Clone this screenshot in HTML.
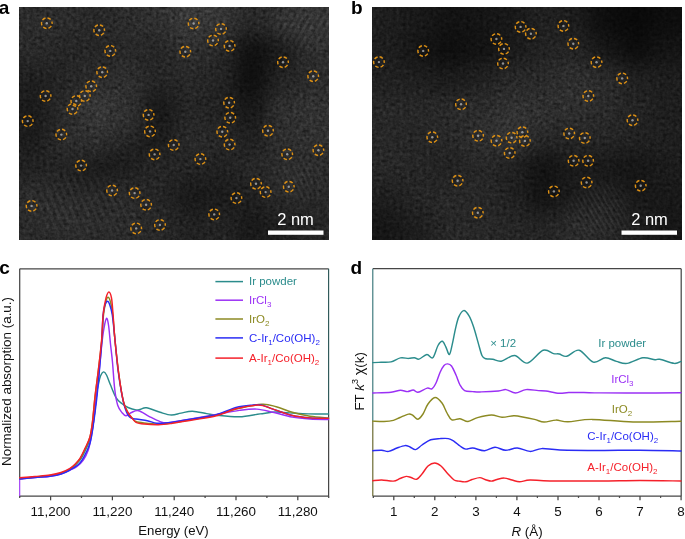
<!DOCTYPE html><html><head><meta charset="utf-8"><style>html,body{margin:0;padding:0;background:#fff;}body{width:685px;height:539px;overflow:hidden;}svg{display:block;font-family:"Liberation Sans",sans-serif;will-change:transform;}</style></head><body>
<svg width="685" height="539" viewBox="0 0 685 539">
<defs>
<filter id="bl" x="-50%" y="-50%" width="200%" height="200%" color-interpolation-filters="sRGB"><feGaussianBlur stdDeviation="10"/></filter>
<filter id="bl2" x="-50%" y="-50%" width="200%" height="200%"><feGaussianBlur stdDeviation="7"/></filter>
<filter id="noise" x="0" y="0" width="100%" height="100%" color-interpolation-filters="sRGB"><feTurbulence type="fractalNoise" baseFrequency="0.3" numOctaves="2" seed="3"/><feColorMatrix type="matrix" values="0.8 0.8 0.8 0 -0.7  0.8 0.8 0.8 0 -0.7  0.8 0.8 0.8 0 -0.7  0 0 0 0 1"/></filter>
<clipPath id="ca"><rect x="19" y="7" width="310" height="233"/></clipPath>
<clipPath id="cb"><rect x="372" y="7" width="310" height="233"/></clipPath>
<radialGradient id="rg"><stop offset="0" stop-color="#fff"/><stop offset="0.6" stop-color="#fff" stop-opacity="0.6"/><stop offset="1" stop-color="#fff" stop-opacity="0"/></radialGradient>
<pattern id="fp0" patternUnits="userSpaceOnUse" width="7.00" height="7.00" patternTransform="rotate(-22.0)"><rect width="3.15" height="7.00" fill="#fff"/></pattern>
<mask id="fm0" maskUnits="userSpaceOnUse" x="0" y="0" width="685" height="539"><ellipse cx="80.0" cy="205.0" rx="75.0" ry="40.0" fill="url(#rg)"/></mask>
<pattern id="fp1" patternUnits="userSpaceOnUse" width="6.00" height="6.00" patternTransform="rotate(30.0)"><rect width="2.70" height="6.00" fill="#fff"/></pattern>
<mask id="fm1" maskUnits="userSpaceOnUse" x="0" y="0" width="685" height="539"><ellipse cx="305.0" cy="28.0" rx="38.0" ry="30.0" fill="url(#rg)"/></mask>
<pattern id="fp2" patternUnits="userSpaceOnUse" width="5.00" height="5.00" patternTransform="rotate(-25.0)"><rect width="2.25" height="5.00" fill="#fff"/></pattern>
<mask id="fm2" maskUnits="userSpaceOnUse" x="0" y="0" width="685" height="539"><ellipse cx="300.0" cy="178.0" rx="38.0" ry="26.0" fill="url(#rg)"/></mask>
<pattern id="fp3" patternUnits="userSpaceOnUse" width="4.50" height="4.50" patternTransform="rotate(-30.0)"><rect width="2.02" height="4.50" fill="#fff"/></pattern>
<mask id="fm3" maskUnits="userSpaceOnUse" x="0" y="0" width="685" height="539"><ellipse cx="600.0" cy="212.0" rx="42.0" ry="36.0" fill="url(#rg)"/></mask>
<pattern id="fp4" patternUnits="userSpaceOnUse" width="5.00" height="5.00" patternTransform="rotate(35.0)"><rect width="2.25" height="5.00" fill="#fff"/></pattern>
<mask id="fm4" maskUnits="userSpaceOnUse" x="0" y="0" width="685" height="539"><ellipse cx="520.0" cy="130.0" rx="45.0" ry="35.0" fill="url(#rg)"/></mask>
</defs>
<g clip-path="url(#ca)">
<rect x="19" y="7" width="310" height="233" fill="#3a3a3a"/>
<g filter="url(#bl)">
<rect x="-43.0" y="-51.2" width="31.5" height="29.6" fill="rgb(43,43,43)"/><rect x="-12.0" y="-51.2" width="31.5" height="29.6" fill="rgb(43,43,43)"/><rect x="19.0" y="-51.2" width="31.5" height="29.6" fill="rgb(43,43,43)"/><rect x="50.0" y="-51.2" width="31.5" height="29.6" fill="rgb(43,43,43)"/><rect x="81.0" y="-51.2" width="31.5" height="29.6" fill="rgb(39,39,39)"/><rect x="112.0" y="-51.2" width="31.5" height="29.6" fill="rgb(43,43,43)"/><rect x="143.0" y="-51.2" width="31.5" height="29.6" fill="rgb(47,47,47)"/><rect x="174.0" y="-51.2" width="31.5" height="29.6" fill="rgb(57,57,57)"/><rect x="205.0" y="-51.2" width="31.5" height="29.6" fill="rgb(52,52,52)"/><rect x="236.0" y="-51.2" width="31.5" height="29.6" fill="rgb(39,39,39)"/><rect x="267.0" y="-51.2" width="31.5" height="29.6" fill="rgb(47,47,47)"/><rect x="298.0" y="-51.2" width="31.5" height="29.6" fill="rgb(49,49,49)"/><rect x="329.0" y="-51.2" width="31.5" height="29.6" fill="rgb(49,49,49)"/><rect x="360.0" y="-51.2" width="31.5" height="29.6" fill="rgb(49,49,49)"/><rect x="-43.0" y="-22.1" width="31.5" height="29.6" fill="rgb(43,43,43)"/><rect x="-12.0" y="-22.1" width="31.5" height="29.6" fill="rgb(43,43,43)"/><rect x="19.0" y="-22.1" width="31.5" height="29.6" fill="rgb(43,43,43)"/><rect x="50.0" y="-22.1" width="31.5" height="29.6" fill="rgb(43,43,43)"/><rect x="81.0" y="-22.1" width="31.5" height="29.6" fill="rgb(39,39,39)"/><rect x="112.0" y="-22.1" width="31.5" height="29.6" fill="rgb(43,43,43)"/><rect x="143.0" y="-22.1" width="31.5" height="29.6" fill="rgb(47,47,47)"/><rect x="174.0" y="-22.1" width="31.5" height="29.6" fill="rgb(57,57,57)"/><rect x="205.0" y="-22.1" width="31.5" height="29.6" fill="rgb(52,52,52)"/><rect x="236.0" y="-22.1" width="31.5" height="29.6" fill="rgb(39,39,39)"/><rect x="267.0" y="-22.1" width="31.5" height="29.6" fill="rgb(47,47,47)"/><rect x="298.0" y="-22.1" width="31.5" height="29.6" fill="rgb(49,49,49)"/><rect x="329.0" y="-22.1" width="31.5" height="29.6" fill="rgb(49,49,49)"/><rect x="360.0" y="-22.1" width="31.5" height="29.6" fill="rgb(49,49,49)"/><rect x="-43.0" y="7.0" width="31.5" height="29.6" fill="rgb(43,43,43)"/><rect x="-12.0" y="7.0" width="31.5" height="29.6" fill="rgb(43,43,43)"/><rect x="19.0" y="7.0" width="31.5" height="29.6" fill="rgb(43,43,43)"/><rect x="50.0" y="7.0" width="31.5" height="29.6" fill="rgb(43,43,43)"/><rect x="81.0" y="7.0" width="31.5" height="29.6" fill="rgb(39,39,39)"/><rect x="112.0" y="7.0" width="31.5" height="29.6" fill="rgb(43,43,43)"/><rect x="143.0" y="7.0" width="31.5" height="29.6" fill="rgb(47,47,47)"/><rect x="174.0" y="7.0" width="31.5" height="29.6" fill="rgb(57,57,57)"/><rect x="205.0" y="7.0" width="31.5" height="29.6" fill="rgb(52,52,52)"/><rect x="236.0" y="7.0" width="31.5" height="29.6" fill="rgb(39,39,39)"/><rect x="267.0" y="7.0" width="31.5" height="29.6" fill="rgb(47,47,47)"/><rect x="298.0" y="7.0" width="31.5" height="29.6" fill="rgb(49,49,49)"/><rect x="329.0" y="7.0" width="31.5" height="29.6" fill="rgb(49,49,49)"/><rect x="360.0" y="7.0" width="31.5" height="29.6" fill="rgb(49,49,49)"/><rect x="-43.0" y="36.1" width="31.5" height="29.6" fill="rgb(41,41,41)"/><rect x="-12.0" y="36.1" width="31.5" height="29.6" fill="rgb(41,41,41)"/><rect x="19.0" y="36.1" width="31.5" height="29.6" fill="rgb(41,41,41)"/><rect x="50.0" y="36.1" width="31.5" height="29.6" fill="rgb(37,37,37)"/><rect x="81.0" y="36.1" width="31.5" height="29.6" fill="rgb(37,37,37)"/><rect x="112.0" y="36.1" width="31.5" height="29.6" fill="rgb(39,39,39)"/><rect x="143.0" y="36.1" width="31.5" height="29.6" fill="rgb(37,37,37)"/><rect x="174.0" y="36.1" width="31.5" height="29.6" fill="rgb(46,46,46)"/><rect x="205.0" y="36.1" width="31.5" height="29.6" fill="rgb(39,39,39)"/><rect x="236.0" y="36.1" width="31.5" height="29.6" fill="rgb(15,15,15)"/><rect x="267.0" y="36.1" width="31.5" height="29.6" fill="rgb(26,26,26)"/><rect x="298.0" y="36.1" width="31.5" height="29.6" fill="rgb(45,45,45)"/><rect x="329.0" y="36.1" width="31.5" height="29.6" fill="rgb(45,45,45)"/><rect x="360.0" y="36.1" width="31.5" height="29.6" fill="rgb(45,45,45)"/><rect x="-43.0" y="65.2" width="31.5" height="29.6" fill="rgb(30,30,30)"/><rect x="-12.0" y="65.2" width="31.5" height="29.6" fill="rgb(30,30,30)"/><rect x="19.0" y="65.2" width="31.5" height="29.6" fill="rgb(30,30,30)"/><rect x="50.0" y="65.2" width="31.5" height="29.6" fill="rgb(37,37,37)"/><rect x="81.0" y="65.2" width="31.5" height="29.6" fill="rgb(43,43,43)"/><rect x="112.0" y="65.2" width="31.5" height="29.6" fill="rgb(46,46,46)"/><rect x="143.0" y="65.2" width="31.5" height="29.6" fill="rgb(36,36,36)"/><rect x="174.0" y="65.2" width="31.5" height="29.6" fill="rgb(39,39,39)"/><rect x="205.0" y="65.2" width="31.5" height="29.6" fill="rgb(35,35,35)"/><rect x="236.0" y="65.2" width="31.5" height="29.6" fill="rgb(13,13,13)"/><rect x="267.0" y="65.2" width="31.5" height="29.6" fill="rgb(35,35,35)"/><rect x="298.0" y="65.2" width="31.5" height="29.6" fill="rgb(43,43,43)"/><rect x="329.0" y="65.2" width="31.5" height="29.6" fill="rgb(43,43,43)"/><rect x="360.0" y="65.2" width="31.5" height="29.6" fill="rgb(43,43,43)"/><rect x="-43.0" y="94.4" width="31.5" height="29.6" fill="rgb(26,26,26)"/><rect x="-12.0" y="94.4" width="31.5" height="29.6" fill="rgb(26,26,26)"/><rect x="19.0" y="94.4" width="31.5" height="29.6" fill="rgb(26,26,26)"/><rect x="50.0" y="94.4" width="31.5" height="29.6" fill="rgb(41,41,41)"/><rect x="81.0" y="94.4" width="31.5" height="29.6" fill="rgb(56,56,56)"/><rect x="112.0" y="94.4" width="31.5" height="29.6" fill="rgb(48,48,48)"/><rect x="143.0" y="94.4" width="31.5" height="29.6" fill="rgb(22,22,22)"/><rect x="174.0" y="94.4" width="31.5" height="29.6" fill="rgb(37,37,37)"/><rect x="205.0" y="94.4" width="31.5" height="29.6" fill="rgb(32,32,32)"/><rect x="236.0" y="94.4" width="31.5" height="29.6" fill="rgb(22,22,22)"/><rect x="267.0" y="94.4" width="31.5" height="29.6" fill="rgb(47,47,47)"/><rect x="298.0" y="94.4" width="31.5" height="29.6" fill="rgb(49,49,49)"/><rect x="329.0" y="94.4" width="31.5" height="29.6" fill="rgb(49,49,49)"/><rect x="360.0" y="94.4" width="31.5" height="29.6" fill="rgb(49,49,49)"/><rect x="-43.0" y="123.5" width="31.5" height="29.6" fill="rgb(27,27,27)"/><rect x="-12.0" y="123.5" width="31.5" height="29.6" fill="rgb(27,27,27)"/><rect x="19.0" y="123.5" width="31.5" height="29.6" fill="rgb(27,27,27)"/><rect x="50.0" y="123.5" width="31.5" height="29.6" fill="rgb(43,43,43)"/><rect x="81.0" y="123.5" width="31.5" height="29.6" fill="rgb(47,47,47)"/><rect x="112.0" y="123.5" width="31.5" height="29.6" fill="rgb(43,43,43)"/><rect x="143.0" y="123.5" width="31.5" height="29.6" fill="rgb(28,28,28)"/><rect x="174.0" y="123.5" width="31.5" height="29.6" fill="rgb(41,41,41)"/><rect x="205.0" y="123.5" width="31.5" height="29.6" fill="rgb(39,39,39)"/><rect x="236.0" y="123.5" width="31.5" height="29.6" fill="rgb(30,30,30)"/><rect x="267.0" y="123.5" width="31.5" height="29.6" fill="rgb(46,46,46)"/><rect x="298.0" y="123.5" width="31.5" height="29.6" fill="rgb(47,47,47)"/><rect x="329.0" y="123.5" width="31.5" height="29.6" fill="rgb(47,47,47)"/><rect x="360.0" y="123.5" width="31.5" height="29.6" fill="rgb(47,47,47)"/><rect x="-43.0" y="152.6" width="31.5" height="29.6" fill="rgb(33,33,33)"/><rect x="-12.0" y="152.6" width="31.5" height="29.6" fill="rgb(33,33,33)"/><rect x="19.0" y="152.6" width="31.5" height="29.6" fill="rgb(33,33,33)"/><rect x="50.0" y="152.6" width="31.5" height="29.6" fill="rgb(36,36,36)"/><rect x="81.0" y="152.6" width="31.5" height="29.6" fill="rgb(32,32,32)"/><rect x="112.0" y="152.6" width="31.5" height="29.6" fill="rgb(32,32,32)"/><rect x="143.0" y="152.6" width="31.5" height="29.6" fill="rgb(37,37,37)"/><rect x="174.0" y="152.6" width="31.5" height="29.6" fill="rgb(35,35,35)"/><rect x="205.0" y="152.6" width="31.5" height="29.6" fill="rgb(32,32,32)"/><rect x="236.0" y="152.6" width="31.5" height="29.6" fill="rgb(39,39,39)"/><rect x="267.0" y="152.6" width="31.5" height="29.6" fill="rgb(41,41,41)"/><rect x="298.0" y="152.6" width="31.5" height="29.6" fill="rgb(41,41,41)"/><rect x="329.0" y="152.6" width="31.5" height="29.6" fill="rgb(41,41,41)"/><rect x="360.0" y="152.6" width="31.5" height="29.6" fill="rgb(41,41,41)"/><rect x="-43.0" y="181.8" width="31.5" height="29.6" fill="rgb(42,42,42)"/><rect x="-12.0" y="181.8" width="31.5" height="29.6" fill="rgb(42,42,42)"/><rect x="19.0" y="181.8" width="31.5" height="29.6" fill="rgb(42,42,42)"/><rect x="50.0" y="181.8" width="31.5" height="29.6" fill="rgb(42,42,42)"/><rect x="81.0" y="181.8" width="31.5" height="29.6" fill="rgb(37,37,37)"/><rect x="112.0" y="181.8" width="31.5" height="29.6" fill="rgb(39,39,39)"/><rect x="143.0" y="181.8" width="31.5" height="29.6" fill="rgb(37,37,37)"/><rect x="174.0" y="181.8" width="31.5" height="29.6" fill="rgb(24,24,24)"/><rect x="205.0" y="181.8" width="31.5" height="29.6" fill="rgb(26,26,26)"/><rect x="236.0" y="181.8" width="31.5" height="29.6" fill="rgb(30,30,30)"/><rect x="267.0" y="181.8" width="31.5" height="29.6" fill="rgb(41,41,41)"/><rect x="298.0" y="181.8" width="31.5" height="29.6" fill="rgb(39,39,39)"/><rect x="329.0" y="181.8" width="31.5" height="29.6" fill="rgb(39,39,39)"/><rect x="360.0" y="181.8" width="31.5" height="29.6" fill="rgb(39,39,39)"/><rect x="-43.0" y="210.9" width="31.5" height="29.6" fill="rgb(41,41,41)"/><rect x="-12.0" y="210.9" width="31.5" height="29.6" fill="rgb(41,41,41)"/><rect x="19.0" y="210.9" width="31.5" height="29.6" fill="rgb(41,41,41)"/><rect x="50.0" y="210.9" width="31.5" height="29.6" fill="rgb(42,42,42)"/><rect x="81.0" y="210.9" width="31.5" height="29.6" fill="rgb(41,41,41)"/><rect x="112.0" y="210.9" width="31.5" height="29.6" fill="rgb(41,41,41)"/><rect x="143.0" y="210.9" width="31.5" height="29.6" fill="rgb(39,39,39)"/><rect x="174.0" y="210.9" width="31.5" height="29.6" fill="rgb(32,32,32)"/><rect x="205.0" y="210.9" width="31.5" height="29.6" fill="rgb(35,35,35)"/><rect x="236.0" y="210.9" width="31.5" height="29.6" fill="rgb(24,24,24)"/><rect x="267.0" y="210.9" width="31.5" height="29.6" fill="rgb(30,30,30)"/><rect x="298.0" y="210.9" width="31.5" height="29.6" fill="rgb(37,37,37)"/><rect x="329.0" y="210.9" width="31.5" height="29.6" fill="rgb(37,37,37)"/><rect x="360.0" y="210.9" width="31.5" height="29.6" fill="rgb(37,37,37)"/><rect x="-43.0" y="240.0" width="31.5" height="29.6" fill="rgb(41,41,41)"/><rect x="-12.0" y="240.0" width="31.5" height="29.6" fill="rgb(41,41,41)"/><rect x="19.0" y="240.0" width="31.5" height="29.6" fill="rgb(41,41,41)"/><rect x="50.0" y="240.0" width="31.5" height="29.6" fill="rgb(42,42,42)"/><rect x="81.0" y="240.0" width="31.5" height="29.6" fill="rgb(41,41,41)"/><rect x="112.0" y="240.0" width="31.5" height="29.6" fill="rgb(41,41,41)"/><rect x="143.0" y="240.0" width="31.5" height="29.6" fill="rgb(39,39,39)"/><rect x="174.0" y="240.0" width="31.5" height="29.6" fill="rgb(32,32,32)"/><rect x="205.0" y="240.0" width="31.5" height="29.6" fill="rgb(35,35,35)"/><rect x="236.0" y="240.0" width="31.5" height="29.6" fill="rgb(24,24,24)"/><rect x="267.0" y="240.0" width="31.5" height="29.6" fill="rgb(30,30,30)"/><rect x="298.0" y="240.0" width="31.5" height="29.6" fill="rgb(37,37,37)"/><rect x="329.0" y="240.0" width="31.5" height="29.6" fill="rgb(37,37,37)"/><rect x="360.0" y="240.0" width="31.5" height="29.6" fill="rgb(37,37,37)"/><rect x="-43.0" y="269.1" width="31.5" height="29.6" fill="rgb(41,41,41)"/><rect x="-12.0" y="269.1" width="31.5" height="29.6" fill="rgb(41,41,41)"/><rect x="19.0" y="269.1" width="31.5" height="29.6" fill="rgb(41,41,41)"/><rect x="50.0" y="269.1" width="31.5" height="29.6" fill="rgb(42,42,42)"/><rect x="81.0" y="269.1" width="31.5" height="29.6" fill="rgb(41,41,41)"/><rect x="112.0" y="269.1" width="31.5" height="29.6" fill="rgb(41,41,41)"/><rect x="143.0" y="269.1" width="31.5" height="29.6" fill="rgb(39,39,39)"/><rect x="174.0" y="269.1" width="31.5" height="29.6" fill="rgb(32,32,32)"/><rect x="205.0" y="269.1" width="31.5" height="29.6" fill="rgb(35,35,35)"/><rect x="236.0" y="269.1" width="31.5" height="29.6" fill="rgb(24,24,24)"/><rect x="267.0" y="269.1" width="31.5" height="29.6" fill="rgb(30,30,30)"/><rect x="298.0" y="269.1" width="31.5" height="29.6" fill="rgb(37,37,37)"/><rect x="329.0" y="269.1" width="31.5" height="29.6" fill="rgb(37,37,37)"/><rect x="360.0" y="269.1" width="31.5" height="29.6" fill="rgb(37,37,37)"/>
<ellipse cx="112.0" cy="162.0" rx="70.0" ry="12.0" fill="#141414" opacity="0.45" transform="rotate(-29.0 112.0 162.0)"/>
</g>
<rect x="19" y="7" width="310" height="233" filter="url(#noise)" opacity="0.40" style="mix-blend-mode:overlay"/>
<rect x="19" y="7" width="310" height="233" fill="url(#fp0)" mask="url(#fm0)" opacity="0.050"/>
<rect x="19" y="7" width="310" height="233" fill="url(#fp1)" mask="url(#fm1)" opacity="0.070"/>
<rect x="19" y="7" width="310" height="233" fill="url(#fp2)" mask="url(#fm2)" opacity="0.060"/>
<circle cx="46.8" cy="23.2" r="1.2" fill="#d0d0d0" opacity="0.65"/><circle cx="99.2" cy="30.2" r="1.2" fill="#d0d0d0" opacity="0.65"/><circle cx="110.3" cy="50.9" r="1.2" fill="#d0d0d0" opacity="0.65"/><circle cx="193.6" cy="23.5" r="1.2" fill="#d0d0d0" opacity="0.65"/><circle cx="221.0" cy="29.0" r="1.2" fill="#d0d0d0" opacity="0.65"/><circle cx="213.0" cy="40.5" r="1.2" fill="#d0d0d0" opacity="0.65"/><circle cx="229.6" cy="45.9" r="1.2" fill="#d0d0d0" opacity="0.65"/><circle cx="185.3" cy="51.7" r="1.2" fill="#d0d0d0" opacity="0.65"/><circle cx="283.0" cy="62.2" r="1.2" fill="#d0d0d0" opacity="0.65"/><circle cx="313.2" cy="76.2" r="1.2" fill="#d0d0d0" opacity="0.65"/><circle cx="102.2" cy="72.2" r="1.2" fill="#d0d0d0" opacity="0.65"/><circle cx="91.2" cy="86.3" r="1.2" fill="#d0d0d0" opacity="0.65"/><circle cx="84.8" cy="96.0" r="1.2" fill="#d0d0d0" opacity="0.65"/><circle cx="76.3" cy="101.0" r="1.2" fill="#d0d0d0" opacity="0.65"/><circle cx="72.5" cy="109.0" r="1.2" fill="#d0d0d0" opacity="0.65"/><circle cx="45.6" cy="96.0" r="1.2" fill="#d0d0d0" opacity="0.65"/><circle cx="27.7" cy="121.1" r="1.2" fill="#d0d0d0" opacity="0.65"/><circle cx="61.3" cy="134.6" r="1.2" fill="#d0d0d0" opacity="0.65"/><circle cx="148.6" cy="114.9" r="1.2" fill="#d0d0d0" opacity="0.65"/><circle cx="229.1" cy="102.7" r="1.2" fill="#d0d0d0" opacity="0.65"/><circle cx="230.2" cy="117.8" r="1.2" fill="#d0d0d0" opacity="0.65"/><circle cx="150.0" cy="131.4" r="1.2" fill="#d0d0d0" opacity="0.65"/><circle cx="222.3" cy="131.7" r="1.2" fill="#d0d0d0" opacity="0.65"/><circle cx="268.0" cy="130.7" r="1.2" fill="#d0d0d0" opacity="0.65"/><circle cx="229.6" cy="144.6" r="1.2" fill="#d0d0d0" opacity="0.65"/><circle cx="173.7" cy="145.0" r="1.2" fill="#d0d0d0" opacity="0.65"/><circle cx="154.6" cy="154.4" r="1.2" fill="#d0d0d0" opacity="0.65"/><circle cx="287.2" cy="154.3" r="1.2" fill="#d0d0d0" opacity="0.65"/><circle cx="318.4" cy="150.2" r="1.2" fill="#d0d0d0" opacity="0.65"/><circle cx="81.1" cy="165.6" r="1.2" fill="#d0d0d0" opacity="0.65"/><circle cx="200.4" cy="159.1" r="1.2" fill="#d0d0d0" opacity="0.65"/><circle cx="256.0" cy="183.7" r="1.2" fill="#d0d0d0" opacity="0.65"/><circle cx="265.6" cy="192.1" r="1.2" fill="#d0d0d0" opacity="0.65"/><circle cx="288.8" cy="186.7" r="1.2" fill="#d0d0d0" opacity="0.65"/><circle cx="112.1" cy="190.5" r="1.2" fill="#d0d0d0" opacity="0.65"/><circle cx="134.6" cy="193.1" r="1.2" fill="#d0d0d0" opacity="0.65"/><circle cx="146.1" cy="204.8" r="1.2" fill="#d0d0d0" opacity="0.65"/><circle cx="236.4" cy="198.1" r="1.2" fill="#d0d0d0" opacity="0.65"/><circle cx="31.6" cy="205.9" r="1.2" fill="#d0d0d0" opacity="0.65"/><circle cx="214.2" cy="214.4" r="1.2" fill="#d0d0d0" opacity="0.65"/><circle cx="136.2" cy="228.4" r="1.2" fill="#d0d0d0" opacity="0.65"/><circle cx="160.0" cy="225.0" r="1.2" fill="#d0d0d0" opacity="0.65"/>
<g fill="none" stroke="#dc9015" stroke-width="1.45" stroke-dasharray="3.5 2.05" stroke-dashoffset="2.7"><circle cx="46.8" cy="23.2" r="5.3"/><circle cx="99.2" cy="30.2" r="5.3"/><circle cx="110.3" cy="50.9" r="5.3"/><circle cx="193.6" cy="23.5" r="5.3"/><circle cx="221.0" cy="29.0" r="5.3"/><circle cx="213.0" cy="40.5" r="5.3"/><circle cx="229.6" cy="45.9" r="5.3"/><circle cx="185.3" cy="51.7" r="5.3"/><circle cx="283.0" cy="62.2" r="5.3"/><circle cx="313.2" cy="76.2" r="5.3"/><circle cx="102.2" cy="72.2" r="5.3"/><circle cx="91.2" cy="86.3" r="5.3"/><circle cx="84.8" cy="96.0" r="5.3"/><circle cx="76.3" cy="101.0" r="5.3"/><circle cx="72.5" cy="109.0" r="5.3"/><circle cx="45.6" cy="96.0" r="5.3"/><circle cx="27.7" cy="121.1" r="5.3"/><circle cx="61.3" cy="134.6" r="5.3"/><circle cx="148.6" cy="114.9" r="5.3"/><circle cx="229.1" cy="102.7" r="5.3"/><circle cx="230.2" cy="117.8" r="5.3"/><circle cx="150.0" cy="131.4" r="5.3"/><circle cx="222.3" cy="131.7" r="5.3"/><circle cx="268.0" cy="130.7" r="5.3"/><circle cx="229.6" cy="144.6" r="5.3"/><circle cx="173.7" cy="145.0" r="5.3"/><circle cx="154.6" cy="154.4" r="5.3"/><circle cx="287.2" cy="154.3" r="5.3"/><circle cx="318.4" cy="150.2" r="5.3"/><circle cx="81.1" cy="165.6" r="5.3"/><circle cx="200.4" cy="159.1" r="5.3"/><circle cx="256.0" cy="183.7" r="5.3"/><circle cx="265.6" cy="192.1" r="5.3"/><circle cx="288.8" cy="186.7" r="5.3"/><circle cx="112.1" cy="190.5" r="5.3"/><circle cx="134.6" cy="193.1" r="5.3"/><circle cx="146.1" cy="204.8" r="5.3"/><circle cx="236.4" cy="198.1" r="5.3"/><circle cx="31.6" cy="205.9" r="5.3"/><circle cx="214.2" cy="214.4" r="5.3"/><circle cx="136.2" cy="228.4" r="5.3"/><circle cx="160.0" cy="225.0" r="5.3"/></g>
<rect x="268" y="230.5" width="55.5" height="4.3" fill="#fff"/>
<text x="295.5" y="224.8" font-size="16.5" fill="#fff" text-anchor="middle">2 nm</text>
</g>
<g clip-path="url(#cb)">
<rect x="372" y="7" width="310" height="233" fill="#343434"/>
<g filter="url(#bl)">
<rect x="310.0" y="-51.2" width="31.5" height="29.6" fill="rgb(29,29,29)"/><rect x="341.0" y="-51.2" width="31.5" height="29.6" fill="rgb(29,29,29)"/><rect x="372.0" y="-51.2" width="31.5" height="29.6" fill="rgb(29,29,29)"/><rect x="403.0" y="-51.2" width="31.5" height="29.6" fill="rgb(24,24,24)"/><rect x="434.0" y="-51.2" width="31.5" height="29.6" fill="rgb(18,18,18)"/><rect x="465.0" y="-51.2" width="31.5" height="29.6" fill="rgb(20,20,20)"/><rect x="496.0" y="-51.2" width="31.5" height="29.6" fill="rgb(24,24,24)"/><rect x="527.0" y="-51.2" width="31.5" height="29.6" fill="rgb(32,32,32)"/><rect x="558.0" y="-51.2" width="31.5" height="29.6" fill="rgb(28,28,28)"/><rect x="589.0" y="-51.2" width="31.5" height="29.6" fill="rgb(13,13,13)"/><rect x="620.0" y="-51.2" width="31.5" height="29.6" fill="rgb(9,9,9)"/><rect x="651.0" y="-51.2" width="31.5" height="29.6" fill="rgb(13,13,13)"/><rect x="682.0" y="-51.2" width="31.5" height="29.6" fill="rgb(13,13,13)"/><rect x="713.0" y="-51.2" width="31.5" height="29.6" fill="rgb(13,13,13)"/><rect x="310.0" y="-22.1" width="31.5" height="29.6" fill="rgb(29,29,29)"/><rect x="341.0" y="-22.1" width="31.5" height="29.6" fill="rgb(29,29,29)"/><rect x="372.0" y="-22.1" width="31.5" height="29.6" fill="rgb(29,29,29)"/><rect x="403.0" y="-22.1" width="31.5" height="29.6" fill="rgb(24,24,24)"/><rect x="434.0" y="-22.1" width="31.5" height="29.6" fill="rgb(18,18,18)"/><rect x="465.0" y="-22.1" width="31.5" height="29.6" fill="rgb(20,20,20)"/><rect x="496.0" y="-22.1" width="31.5" height="29.6" fill="rgb(24,24,24)"/><rect x="527.0" y="-22.1" width="31.5" height="29.6" fill="rgb(32,32,32)"/><rect x="558.0" y="-22.1" width="31.5" height="29.6" fill="rgb(28,28,28)"/><rect x="589.0" y="-22.1" width="31.5" height="29.6" fill="rgb(13,13,13)"/><rect x="620.0" y="-22.1" width="31.5" height="29.6" fill="rgb(9,9,9)"/><rect x="651.0" y="-22.1" width="31.5" height="29.6" fill="rgb(13,13,13)"/><rect x="682.0" y="-22.1" width="31.5" height="29.6" fill="rgb(13,13,13)"/><rect x="713.0" y="-22.1" width="31.5" height="29.6" fill="rgb(13,13,13)"/><rect x="310.0" y="7.0" width="31.5" height="29.6" fill="rgb(29,29,29)"/><rect x="341.0" y="7.0" width="31.5" height="29.6" fill="rgb(29,29,29)"/><rect x="372.0" y="7.0" width="31.5" height="29.6" fill="rgb(29,29,29)"/><rect x="403.0" y="7.0" width="31.5" height="29.6" fill="rgb(24,24,24)"/><rect x="434.0" y="7.0" width="31.5" height="29.6" fill="rgb(18,18,18)"/><rect x="465.0" y="7.0" width="31.5" height="29.6" fill="rgb(20,20,20)"/><rect x="496.0" y="7.0" width="31.5" height="29.6" fill="rgb(24,24,24)"/><rect x="527.0" y="7.0" width="31.5" height="29.6" fill="rgb(32,32,32)"/><rect x="558.0" y="7.0" width="31.5" height="29.6" fill="rgb(28,28,28)"/><rect x="589.0" y="7.0" width="31.5" height="29.6" fill="rgb(13,13,13)"/><rect x="620.0" y="7.0" width="31.5" height="29.6" fill="rgb(9,9,9)"/><rect x="651.0" y="7.0" width="31.5" height="29.6" fill="rgb(13,13,13)"/><rect x="682.0" y="7.0" width="31.5" height="29.6" fill="rgb(13,13,13)"/><rect x="713.0" y="7.0" width="31.5" height="29.6" fill="rgb(13,13,13)"/><rect x="310.0" y="36.1" width="31.5" height="29.6" fill="rgb(29,29,29)"/><rect x="341.0" y="36.1" width="31.5" height="29.6" fill="rgb(29,29,29)"/><rect x="372.0" y="36.1" width="31.5" height="29.6" fill="rgb(29,29,29)"/><rect x="403.0" y="36.1" width="31.5" height="29.6" fill="rgb(20,20,20)"/><rect x="434.0" y="36.1" width="31.5" height="29.6" fill="rgb(13,13,13)"/><rect x="465.0" y="36.1" width="31.5" height="29.6" fill="rgb(18,18,18)"/><rect x="496.0" y="36.1" width="31.5" height="29.6" fill="rgb(24,24,24)"/><rect x="527.0" y="36.1" width="31.5" height="29.6" fill="rgb(34,34,34)"/><rect x="558.0" y="36.1" width="31.5" height="29.6" fill="rgb(36,36,36)"/><rect x="589.0" y="36.1" width="31.5" height="29.6" fill="rgb(22,22,22)"/><rect x="620.0" y="36.1" width="31.5" height="29.6" fill="rgb(12,12,12)"/><rect x="651.0" y="36.1" width="31.5" height="29.6" fill="rgb(20,20,20)"/><rect x="682.0" y="36.1" width="31.5" height="29.6" fill="rgb(20,20,20)"/><rect x="713.0" y="36.1" width="31.5" height="29.6" fill="rgb(20,20,20)"/><rect x="310.0" y="65.2" width="31.5" height="29.6" fill="rgb(32,32,32)"/><rect x="341.0" y="65.2" width="31.5" height="29.6" fill="rgb(32,32,32)"/><rect x="372.0" y="65.2" width="31.5" height="29.6" fill="rgb(32,32,32)"/><rect x="403.0" y="65.2" width="31.5" height="29.6" fill="rgb(30,30,30)"/><rect x="434.0" y="65.2" width="31.5" height="29.6" fill="rgb(26,26,26)"/><rect x="465.0" y="65.2" width="31.5" height="29.6" fill="rgb(32,32,32)"/><rect x="496.0" y="65.2" width="31.5" height="29.6" fill="rgb(40,40,40)"/><rect x="527.0" y="65.2" width="31.5" height="29.6" fill="rgb(41,41,41)"/><rect x="558.0" y="65.2" width="31.5" height="29.6" fill="rgb(47,47,47)"/><rect x="589.0" y="65.2" width="31.5" height="29.6" fill="rgb(43,43,43)"/><rect x="620.0" y="65.2" width="31.5" height="29.6" fill="rgb(32,32,32)"/><rect x="651.0" y="65.2" width="31.5" height="29.6" fill="rgb(29,29,29)"/><rect x="682.0" y="65.2" width="31.5" height="29.6" fill="rgb(29,29,29)"/><rect x="713.0" y="65.2" width="31.5" height="29.6" fill="rgb(29,29,29)"/><rect x="310.0" y="94.4" width="31.5" height="29.6" fill="rgb(39,39,39)"/><rect x="341.0" y="94.4" width="31.5" height="29.6" fill="rgb(39,39,39)"/><rect x="372.0" y="94.4" width="31.5" height="29.6" fill="rgb(39,39,39)"/><rect x="403.0" y="94.4" width="31.5" height="29.6" fill="rgb(39,39,39)"/><rect x="434.0" y="94.4" width="31.5" height="29.6" fill="rgb(41,41,41)"/><rect x="465.0" y="94.4" width="31.5" height="29.6" fill="rgb(43,43,43)"/><rect x="496.0" y="94.4" width="31.5" height="29.6" fill="rgb(47,47,47)"/><rect x="527.0" y="94.4" width="31.5" height="29.6" fill="rgb(46,46,46)"/><rect x="558.0" y="94.4" width="31.5" height="29.6" fill="rgb(46,46,46)"/><rect x="589.0" y="94.4" width="31.5" height="29.6" fill="rgb(41,41,41)"/><rect x="620.0" y="94.4" width="31.5" height="29.6" fill="rgb(35,35,35)"/><rect x="651.0" y="94.4" width="31.5" height="29.6" fill="rgb(29,29,29)"/><rect x="682.0" y="94.4" width="31.5" height="29.6" fill="rgb(29,29,29)"/><rect x="713.0" y="94.4" width="31.5" height="29.6" fill="rgb(29,29,29)"/><rect x="310.0" y="123.5" width="31.5" height="29.6" fill="rgb(39,39,39)"/><rect x="341.0" y="123.5" width="31.5" height="29.6" fill="rgb(39,39,39)"/><rect x="372.0" y="123.5" width="31.5" height="29.6" fill="rgb(39,39,39)"/><rect x="403.0" y="123.5" width="31.5" height="29.6" fill="rgb(37,37,37)"/><rect x="434.0" y="123.5" width="31.5" height="29.6" fill="rgb(39,39,39)"/><rect x="465.0" y="123.5" width="31.5" height="29.6" fill="rgb(46,46,46)"/><rect x="496.0" y="123.5" width="31.5" height="29.6" fill="rgb(47,47,47)"/><rect x="527.0" y="123.5" width="31.5" height="29.6" fill="rgb(37,37,37)"/><rect x="558.0" y="123.5" width="31.5" height="29.6" fill="rgb(37,37,37)"/><rect x="589.0" y="123.5" width="31.5" height="29.6" fill="rgb(37,37,37)"/><rect x="620.0" y="123.5" width="31.5" height="29.6" fill="rgb(33,33,33)"/><rect x="651.0" y="123.5" width="31.5" height="29.6" fill="rgb(30,30,30)"/><rect x="682.0" y="123.5" width="31.5" height="29.6" fill="rgb(30,30,30)"/><rect x="713.0" y="123.5" width="31.5" height="29.6" fill="rgb(30,30,30)"/><rect x="310.0" y="152.6" width="31.5" height="29.6" fill="rgb(39,39,39)"/><rect x="341.0" y="152.6" width="31.5" height="29.6" fill="rgb(39,39,39)"/><rect x="372.0" y="152.6" width="31.5" height="29.6" fill="rgb(39,39,39)"/><rect x="403.0" y="152.6" width="31.5" height="29.6" fill="rgb(37,37,37)"/><rect x="434.0" y="152.6" width="31.5" height="29.6" fill="rgb(32,32,32)"/><rect x="465.0" y="152.6" width="31.5" height="29.6" fill="rgb(39,39,39)"/><rect x="496.0" y="152.6" width="31.5" height="29.6" fill="rgb(32,32,32)"/><rect x="527.0" y="152.6" width="31.5" height="29.6" fill="rgb(18,18,18)"/><rect x="558.0" y="152.6" width="31.5" height="29.6" fill="rgb(26,26,26)"/><rect x="589.0" y="152.6" width="31.5" height="29.6" fill="rgb(24,24,24)"/><rect x="620.0" y="152.6" width="31.5" height="29.6" fill="rgb(20,20,20)"/><rect x="651.0" y="152.6" width="31.5" height="29.6" fill="rgb(27,27,27)"/><rect x="682.0" y="152.6" width="31.5" height="29.6" fill="rgb(27,27,27)"/><rect x="713.0" y="152.6" width="31.5" height="29.6" fill="rgb(27,27,27)"/><rect x="310.0" y="181.8" width="31.5" height="29.6" fill="rgb(30,30,30)"/><rect x="341.0" y="181.8" width="31.5" height="29.6" fill="rgb(30,30,30)"/><rect x="372.0" y="181.8" width="31.5" height="29.6" fill="rgb(30,30,30)"/><rect x="403.0" y="181.8" width="31.5" height="29.6" fill="rgb(37,37,37)"/><rect x="434.0" y="181.8" width="31.5" height="29.6" fill="rgb(39,39,39)"/><rect x="465.0" y="181.8" width="31.5" height="29.6" fill="rgb(39,39,39)"/><rect x="496.0" y="181.8" width="31.5" height="29.6" fill="rgb(32,32,32)"/><rect x="527.0" y="181.8" width="31.5" height="29.6" fill="rgb(18,18,18)"/><rect x="558.0" y="181.8" width="31.5" height="29.6" fill="rgb(26,26,26)"/><rect x="589.0" y="181.8" width="31.5" height="29.6" fill="rgb(30,30,30)"/><rect x="620.0" y="181.8" width="31.5" height="29.6" fill="rgb(24,24,24)"/><rect x="651.0" y="181.8" width="31.5" height="29.6" fill="rgb(24,24,24)"/><rect x="682.0" y="181.8" width="31.5" height="29.6" fill="rgb(24,24,24)"/><rect x="713.0" y="181.8" width="31.5" height="29.6" fill="rgb(24,24,24)"/><rect x="310.0" y="210.9" width="31.5" height="29.6" fill="rgb(22,22,22)"/><rect x="341.0" y="210.9" width="31.5" height="29.6" fill="rgb(22,22,22)"/><rect x="372.0" y="210.9" width="31.5" height="29.6" fill="rgb(22,22,22)"/><rect x="403.0" y="210.9" width="31.5" height="29.6" fill="rgb(29,29,29)"/><rect x="434.0" y="210.9" width="31.5" height="29.6" fill="rgb(39,39,39)"/><rect x="465.0" y="210.9" width="31.5" height="29.6" fill="rgb(39,39,39)"/><rect x="496.0" y="210.9" width="31.5" height="29.6" fill="rgb(37,37,37)"/><rect x="527.0" y="210.9" width="31.5" height="29.6" fill="rgb(35,35,35)"/><rect x="558.0" y="210.9" width="31.5" height="29.6" fill="rgb(41,41,41)"/><rect x="589.0" y="210.9" width="31.5" height="29.6" fill="rgb(37,37,37)"/><rect x="620.0" y="210.9" width="31.5" height="29.6" fill="rgb(29,29,29)"/><rect x="651.0" y="210.9" width="31.5" height="29.6" fill="rgb(22,22,22)"/><rect x="682.0" y="210.9" width="31.5" height="29.6" fill="rgb(22,22,22)"/><rect x="713.0" y="210.9" width="31.5" height="29.6" fill="rgb(22,22,22)"/><rect x="310.0" y="240.0" width="31.5" height="29.6" fill="rgb(22,22,22)"/><rect x="341.0" y="240.0" width="31.5" height="29.6" fill="rgb(22,22,22)"/><rect x="372.0" y="240.0" width="31.5" height="29.6" fill="rgb(22,22,22)"/><rect x="403.0" y="240.0" width="31.5" height="29.6" fill="rgb(29,29,29)"/><rect x="434.0" y="240.0" width="31.5" height="29.6" fill="rgb(39,39,39)"/><rect x="465.0" y="240.0" width="31.5" height="29.6" fill="rgb(39,39,39)"/><rect x="496.0" y="240.0" width="31.5" height="29.6" fill="rgb(37,37,37)"/><rect x="527.0" y="240.0" width="31.5" height="29.6" fill="rgb(35,35,35)"/><rect x="558.0" y="240.0" width="31.5" height="29.6" fill="rgb(41,41,41)"/><rect x="589.0" y="240.0" width="31.5" height="29.6" fill="rgb(37,37,37)"/><rect x="620.0" y="240.0" width="31.5" height="29.6" fill="rgb(29,29,29)"/><rect x="651.0" y="240.0" width="31.5" height="29.6" fill="rgb(22,22,22)"/><rect x="682.0" y="240.0" width="31.5" height="29.6" fill="rgb(22,22,22)"/><rect x="713.0" y="240.0" width="31.5" height="29.6" fill="rgb(22,22,22)"/><rect x="310.0" y="269.1" width="31.5" height="29.6" fill="rgb(22,22,22)"/><rect x="341.0" y="269.1" width="31.5" height="29.6" fill="rgb(22,22,22)"/><rect x="372.0" y="269.1" width="31.5" height="29.6" fill="rgb(22,22,22)"/><rect x="403.0" y="269.1" width="31.5" height="29.6" fill="rgb(29,29,29)"/><rect x="434.0" y="269.1" width="31.5" height="29.6" fill="rgb(39,39,39)"/><rect x="465.0" y="269.1" width="31.5" height="29.6" fill="rgb(39,39,39)"/><rect x="496.0" y="269.1" width="31.5" height="29.6" fill="rgb(37,37,37)"/><rect x="527.0" y="269.1" width="31.5" height="29.6" fill="rgb(35,35,35)"/><rect x="558.0" y="269.1" width="31.5" height="29.6" fill="rgb(41,41,41)"/><rect x="589.0" y="269.1" width="31.5" height="29.6" fill="rgb(37,37,37)"/><rect x="620.0" y="269.1" width="31.5" height="29.6" fill="rgb(29,29,29)"/><rect x="651.0" y="269.1" width="31.5" height="29.6" fill="rgb(22,22,22)"/><rect x="682.0" y="269.1" width="31.5" height="29.6" fill="rgb(22,22,22)"/><rect x="713.0" y="269.1" width="31.5" height="29.6" fill="rgb(22,22,22)"/>
</g>
<rect x="372" y="7" width="310" height="233" filter="url(#noise)" opacity="0.40" style="mix-blend-mode:overlay"/>
<rect x="372" y="7" width="310" height="233" fill="url(#fp3)" mask="url(#fm3)" opacity="0.070"/>
<rect x="372" y="7" width="310" height="233" fill="url(#fp4)" mask="url(#fm4)" opacity="0.040"/>
<circle cx="378.9" cy="62.1" r="1.2" fill="#d0d0d0" opacity="0.65"/><circle cx="423.2" cy="50.9" r="1.2" fill="#d0d0d0" opacity="0.65"/><circle cx="496.4" cy="39.0" r="1.2" fill="#d0d0d0" opacity="0.65"/><circle cx="504.0" cy="48.9" r="1.2" fill="#d0d0d0" opacity="0.65"/><circle cx="503.0" cy="63.5" r="1.2" fill="#d0d0d0" opacity="0.65"/><circle cx="520.6" cy="26.9" r="1.2" fill="#d0d0d0" opacity="0.65"/><circle cx="530.9" cy="33.7" r="1.2" fill="#d0d0d0" opacity="0.65"/><circle cx="563.4" cy="25.9" r="1.2" fill="#d0d0d0" opacity="0.65"/><circle cx="573.3" cy="43.7" r="1.2" fill="#d0d0d0" opacity="0.65"/><circle cx="596.5" cy="62.2" r="1.2" fill="#d0d0d0" opacity="0.65"/><circle cx="622.2" cy="78.4" r="1.2" fill="#d0d0d0" opacity="0.65"/><circle cx="588.3" cy="96.0" r="1.2" fill="#d0d0d0" opacity="0.65"/><circle cx="461.0" cy="104.3" r="1.2" fill="#d0d0d0" opacity="0.65"/><circle cx="632.5" cy="120.2" r="1.2" fill="#d0d0d0" opacity="0.65"/><circle cx="432.3" cy="137.2" r="1.2" fill="#d0d0d0" opacity="0.65"/><circle cx="478.1" cy="135.8" r="1.2" fill="#d0d0d0" opacity="0.65"/><circle cx="496.5" cy="140.7" r="1.2" fill="#d0d0d0" opacity="0.65"/><circle cx="511.6" cy="137.7" r="1.2" fill="#d0d0d0" opacity="0.65"/><circle cx="522.4" cy="132.2" r="1.2" fill="#d0d0d0" opacity="0.65"/><circle cx="524.9" cy="140.9" r="1.2" fill="#d0d0d0" opacity="0.65"/><circle cx="509.7" cy="153.0" r="1.2" fill="#d0d0d0" opacity="0.65"/><circle cx="569.2" cy="133.5" r="1.2" fill="#d0d0d0" opacity="0.65"/><circle cx="584.8" cy="138.0" r="1.2" fill="#d0d0d0" opacity="0.65"/><circle cx="573.6" cy="160.8" r="1.2" fill="#d0d0d0" opacity="0.65"/><circle cx="588.1" cy="160.8" r="1.2" fill="#d0d0d0" opacity="0.65"/><circle cx="586.6" cy="182.5" r="1.2" fill="#d0d0d0" opacity="0.65"/><circle cx="457.6" cy="180.7" r="1.2" fill="#d0d0d0" opacity="0.65"/><circle cx="553.9" cy="191.4" r="1.2" fill="#d0d0d0" opacity="0.65"/><circle cx="640.7" cy="185.7" r="1.2" fill="#d0d0d0" opacity="0.65"/><circle cx="477.8" cy="212.7" r="1.2" fill="#d0d0d0" opacity="0.65"/>
<g fill="none" stroke="#dc9015" stroke-width="1.45" stroke-dasharray="3.5 2.05" stroke-dashoffset="2.7"><circle cx="378.9" cy="62.1" r="5.3"/><circle cx="423.2" cy="50.9" r="5.3"/><circle cx="496.4" cy="39.0" r="5.3"/><circle cx="504.0" cy="48.9" r="5.3"/><circle cx="503.0" cy="63.5" r="5.3"/><circle cx="520.6" cy="26.9" r="5.3"/><circle cx="530.9" cy="33.7" r="5.3"/><circle cx="563.4" cy="25.9" r="5.3"/><circle cx="573.3" cy="43.7" r="5.3"/><circle cx="596.5" cy="62.2" r="5.3"/><circle cx="622.2" cy="78.4" r="5.3"/><circle cx="588.3" cy="96.0" r="5.3"/><circle cx="461.0" cy="104.3" r="5.3"/><circle cx="632.5" cy="120.2" r="5.3"/><circle cx="432.3" cy="137.2" r="5.3"/><circle cx="478.1" cy="135.8" r="5.3"/><circle cx="496.5" cy="140.7" r="5.3"/><circle cx="511.6" cy="137.7" r="5.3"/><circle cx="522.4" cy="132.2" r="5.3"/><circle cx="524.9" cy="140.9" r="5.3"/><circle cx="509.7" cy="153.0" r="5.3"/><circle cx="569.2" cy="133.5" r="5.3"/><circle cx="584.8" cy="138.0" r="5.3"/><circle cx="573.6" cy="160.8" r="5.3"/><circle cx="588.1" cy="160.8" r="5.3"/><circle cx="586.6" cy="182.5" r="5.3"/><circle cx="457.6" cy="180.7" r="5.3"/><circle cx="553.9" cy="191.4" r="5.3"/><circle cx="640.7" cy="185.7" r="5.3"/><circle cx="477.8" cy="212.7" r="5.3"/></g>
<rect x="621.5" y="230.5" width="55.5" height="4.3" fill="#fff"/>
<text x="649.5" y="225" font-size="16.5" fill="#fff" text-anchor="middle">2 nm</text>
</g>
<g font-weight="bold" font-size="19" fill="#000">
<text x="-1.2" y="13.8">a</text>
<text x="351.0" y="13.9">b</text>
<text x="-0.8" y="274">c</text>
<text x="350.6" y="273.8">d</text>
</g>
<g fill="none" stroke="#464646" stroke-width="1.25">
<path d="M19.7 268.8 H328.6"/>
<path d="M19.7 496.1 H328.6"/>
<path d="M19.7 268.8 V479.0"/>
<path d="M328.6 414.0 V496.1"/>
<path d="M19.7 496.1 V497.9"/>
<path d="M50.6 496.1 V500.3"/>
<path d="M81.5 496.1 V497.9"/>
<path d="M112.4 496.1 V500.3"/>
<path d="M143.3 496.1 V497.9"/>
<path d="M174.2 496.1 V500.3"/>
<path d="M205.1 496.1 V497.9"/>
<path d="M236.0 496.1 V500.3"/>
<path d="M266.9 496.1 V497.9"/>
<path d="M297.8 496.1 V500.3"/>
<path d="M328.7 496.1 V497.9"/>
</g>
<path d="M19.7 479.0 V496.1" stroke="#9b30f5" stroke-width="1.1"/>
<path d="M328.6 268.8 V414.0" stroke="#2d5858" stroke-width="1.15"/>
<path d="M19.70 478.50 C24.75 478.05 43.12 476.63 50.00 475.80 C56.88 474.97 57.67 474.55 61.00 473.50 C64.33 472.45 66.83 471.75 70.00 469.50 C73.17 467.25 77.33 463.42 80.00 460.00 C82.67 456.58 84.33 452.50 86.00 449.00 C87.67 445.50 88.78 443.28 90.00 439.00 C91.22 434.72 92.15 431.13 93.30 423.30 C94.45 415.47 96.05 398.47 96.90 392.00 C97.75 385.53 97.80 387.17 98.40 384.50 C99.00 381.83 99.63 378.10 100.50 376.00 C101.37 373.90 102.60 372.07 103.60 371.90 C104.60 371.73 105.38 372.90 106.50 375.00 C107.62 377.10 108.68 380.68 110.30 384.50 C111.92 388.32 114.23 394.68 116.20 397.90 C118.17 401.12 120.13 402.20 122.10 403.80 C124.07 405.40 125.68 406.48 128.00 407.50 C130.32 408.52 133.92 409.60 136.00 409.90 C138.08 410.20 138.75 409.65 140.50 409.30 C142.25 408.95 143.23 407.30 146.50 407.80 C149.77 408.30 155.95 411.10 160.10 412.30 C164.25 413.50 167.92 414.87 171.40 415.00 C174.88 415.13 177.52 413.73 181.00 413.10 C184.48 412.47 188.02 411.12 192.30 411.20 C196.58 411.28 202.68 412.93 206.70 413.60 C210.72 414.27 210.97 414.67 216.40 415.20 C221.83 415.73 232.02 417.02 239.30 416.80 C246.58 416.58 253.95 414.70 260.10 413.90 C266.25 413.10 270.83 412.13 276.20 412.00 C281.57 411.87 286.95 412.78 292.30 413.10 C297.65 413.42 302.27 413.77 308.30 413.90 C314.33 414.03 325.13 413.90 328.50 413.90" fill="none" stroke="#2b8c8c" stroke-width="1.45" stroke-linejoin="round" stroke-linecap="round"/>
<path d="M19.70 479.00 C22.25 478.75 29.95 477.97 35.00 477.50 C40.05 477.03 45.67 476.78 50.00 476.20 C54.33 475.62 57.67 475.03 61.00 474.00 C64.33 472.97 67.38 471.22 70.00 470.00 C72.62 468.78 74.48 468.37 76.70 466.70 C78.92 465.03 81.37 462.78 83.30 460.00 C85.23 457.22 86.97 453.88 88.30 450.00 C89.63 446.12 90.47 441.15 91.30 436.70 C92.13 432.25 92.52 429.42 93.30 423.30 C94.08 417.18 95.17 407.22 96.00 400.00 C96.83 392.78 97.35 389.17 98.30 380.00 C99.25 370.83 100.75 353.67 101.70 345.00 C102.65 336.33 103.20 332.43 104.00 328.00 C104.80 323.57 105.75 318.90 106.50 318.40 C107.25 317.90 107.82 320.57 108.50 325.00 C109.18 329.43 109.93 338.78 110.60 345.00 C111.27 351.22 111.82 354.97 112.50 362.30 C113.18 369.63 113.83 381.83 114.70 389.00 C115.57 396.17 116.47 401.35 117.70 405.30 C118.93 409.25 120.75 410.97 122.10 412.70 C123.45 414.43 124.32 415.70 125.80 415.70 C127.28 415.70 128.88 413.53 131.00 412.70 C133.12 411.87 135.52 410.10 138.50 410.70 C141.48 411.30 145.30 414.48 148.90 416.30 C152.50 418.12 156.88 420.53 160.10 421.60 C163.32 422.67 162.83 423.18 168.20 422.70 C173.57 422.22 184.27 420.08 192.30 418.70 C200.33 417.32 208.57 415.78 216.40 414.40 C224.23 413.02 232.55 411.28 239.30 410.40 C246.05 409.52 251.28 408.78 256.90 409.10 C262.52 409.42 267.10 410.97 273.00 412.30 C278.90 413.63 286.13 415.98 292.30 417.10 C298.47 418.22 303.97 418.60 310.00 419.00 C316.03 419.40 325.42 419.42 328.50 419.50" fill="none" stroke="#9b30f5" stroke-width="1.45" stroke-linejoin="round" stroke-linecap="round"/>
<path d="M19.70 478.50 C24.75 478.00 43.12 476.42 50.00 475.50 C56.88 474.58 57.67 474.08 61.00 473.00 C64.33 471.92 66.83 471.33 70.00 469.00 C73.17 466.67 77.37 462.58 80.00 459.00 C82.63 455.42 84.13 451.17 85.80 447.50 C87.47 443.83 88.88 441.25 90.00 437.00 C91.12 432.75 91.67 428.67 92.50 422.00 C93.33 415.33 94.02 405.67 95.00 397.00 C95.98 388.33 97.27 379.50 98.40 370.00 C99.53 360.50 100.95 349.17 101.80 340.00 C102.65 330.83 102.83 321.33 103.50 315.00 C104.17 308.67 105.05 304.95 105.80 302.00 C106.55 299.05 107.22 297.30 108.00 297.30 C108.78 297.30 109.70 299.05 110.50 302.00 C111.30 304.95 112.05 308.67 112.80 315.00 C113.55 321.33 113.93 329.67 115.00 340.00 C116.07 350.33 117.77 366.67 119.20 377.00 C120.63 387.33 122.13 396.08 123.60 402.00 C125.07 407.92 126.52 409.75 128.00 412.50 C129.48 415.25 131.17 417.00 132.50 418.50 C133.83 420.00 134.08 420.75 136.00 421.50 C137.92 422.25 140.25 422.58 144.00 423.00 C147.75 423.42 153.93 424.00 158.50 424.00 C163.07 424.00 165.77 423.75 171.40 423.00 C177.03 422.25 184.80 420.83 192.30 419.50 C199.80 418.17 209.12 416.75 216.40 415.00 C223.68 413.25 228.43 410.78 236.00 409.00 C243.57 407.22 255.10 404.68 261.80 404.30 C268.50 403.92 271.12 405.37 276.20 406.70 C281.28 408.03 286.67 410.70 292.30 412.30 C297.93 413.90 303.97 415.37 310.00 416.30 C316.03 417.23 325.42 417.63 328.50 417.90" fill="none" stroke="#8c8a23" stroke-width="1.45" stroke-linejoin="round" stroke-linecap="round"/>
<path d="M19.70 479.00 C22.25 478.75 29.95 477.97 35.00 477.50 C40.05 477.03 45.67 476.78 50.00 476.20 C54.33 475.62 57.67 475.03 61.00 474.00 C64.33 472.97 66.85 471.83 70.00 470.00 C73.15 468.17 77.17 466.00 79.90 463.00 C82.63 460.00 84.70 455.38 86.40 452.00 C88.10 448.62 89.02 446.73 90.10 442.70 C91.18 438.67 91.82 434.92 92.90 427.80 C93.98 420.68 95.58 408.80 96.60 400.00 C97.62 391.20 98.18 384.17 99.00 375.00 C99.82 365.83 100.82 355.00 101.50 345.00 C102.18 335.00 102.52 321.67 103.10 315.00 C103.68 308.33 104.25 307.30 105.00 305.00 C105.75 302.70 106.80 301.20 107.60 301.20 C108.40 301.20 109.02 302.70 109.80 305.00 C110.58 307.30 111.43 309.17 112.30 315.00 C113.17 320.83 114.05 330.83 115.00 340.00 C115.95 349.17 116.90 361.17 118.00 370.00 C119.10 378.83 120.42 386.63 121.60 393.00 C122.78 399.37 123.77 404.18 125.10 408.20 C126.43 412.22 127.78 415.30 129.60 417.10 C131.42 418.90 133.05 418.40 136.00 419.00 C138.95 419.60 143.82 420.00 147.30 420.70 C150.78 421.40 153.42 422.87 156.90 423.20 C160.38 423.53 162.30 423.40 168.20 422.70 C174.10 422.00 184.27 420.33 192.30 419.00 C200.33 417.67 209.12 416.62 216.40 414.70 C223.68 412.78 230.05 409.10 236.00 407.50 C241.95 405.90 247.80 405.50 252.10 405.10 C256.40 404.70 258.32 404.43 261.80 405.10 C265.28 405.77 267.92 407.37 273.00 409.10 C278.08 410.83 286.13 414.03 292.30 415.50 C298.47 416.97 303.97 417.42 310.00 417.90 C316.03 418.38 325.42 418.32 328.50 418.40" fill="none" stroke="#2a2cf5" stroke-width="1.45" stroke-linejoin="round" stroke-linecap="round"/>
<path d="M19.70 477.80 C22.25 477.58 29.95 476.97 35.00 476.50 C40.05 476.03 45.67 475.67 50.00 475.00 C54.33 474.33 57.67 473.62 61.00 472.50 C64.33 471.38 67.67 469.68 70.00 468.30 C72.33 466.92 73.33 465.87 75.00 464.20 C76.67 462.53 78.20 461.22 80.00 458.30 C81.80 455.38 84.13 450.30 85.80 446.70 C87.47 443.10 88.88 440.87 90.00 436.70 C91.12 432.53 91.67 428.37 92.50 421.70 C93.33 415.03 94.02 405.37 95.00 396.70 C95.98 388.03 97.30 379.15 98.40 369.70 C99.50 360.25 100.82 349.12 101.60 340.00 C102.38 330.88 102.37 322.00 103.10 315.00 C103.83 308.00 105.03 301.85 106.00 298.00 C106.97 294.15 107.98 291.90 108.90 291.90 C109.82 291.90 110.80 294.15 111.50 298.00 C112.20 301.85 112.48 307.50 113.10 315.00 C113.72 322.50 114.18 332.65 115.20 343.00 C116.22 353.35 117.80 367.22 119.20 377.10 C120.60 386.98 122.13 396.37 123.60 402.30 C125.07 408.23 126.52 409.98 128.00 412.70 C129.48 415.42 131.17 417.00 132.50 418.60 C133.83 420.20 134.07 421.40 136.00 422.30 C137.93 423.20 140.35 423.58 144.10 424.00 C147.85 424.42 153.95 424.88 158.50 424.80 C163.05 424.72 165.77 424.30 171.40 423.50 C177.03 422.70 184.80 421.28 192.30 420.00 C199.80 418.72 209.12 417.67 216.40 415.80 C223.68 413.93 228.98 410.58 236.00 408.80 C243.02 407.02 252.33 405.05 258.50 405.10 C264.67 405.15 267.37 407.37 273.00 409.10 C278.63 410.83 286.13 414.03 292.30 415.50 C298.47 416.97 303.97 417.42 310.00 417.90 C316.03 418.38 325.42 418.32 328.50 418.40" fill="none" stroke="#f5202a" stroke-width="1.45" stroke-linejoin="round" stroke-linecap="round"/>
<g font-size="13.4" fill="#111" text-anchor="middle">
<text x="50.6" y="516">11,200</text>
<text x="112.4" y="516">11,220</text>
<text x="174.2" y="516">11,240</text>
<text x="236.0" y="516">11,260</text>
<text x="297.8" y="516">11,280</text>
</g>
<text x="173.5" y="535.2" font-size="13.2" fill="#111" text-anchor="middle">Energy (eV)</text>
<text transform="translate(10.8 381.5) rotate(-90)" font-size="13.4" fill="#111" text-anchor="middle">Normalized absorption (a.u.)</text>
<path d="M215.4 281.6 H243" stroke="#2b8c8c" stroke-width="1.5"/>
<text x="249" y="285.4" font-size="11.5" fill="#2b8c8c">Ir powder</text>
<path d="M215.4 300.2 H243" stroke="#9b30f5" stroke-width="1.5"/>
<text x="249" y="304.0" font-size="11.5" fill="#9b30f5">IrCl<tspan font-size="8" dy="3">3</tspan></text>
<path d="M215.4 319.0 H243" stroke="#8c8a23" stroke-width="1.5"/>
<text x="249" y="322.8" font-size="11.5" fill="#8c8a23">IrO<tspan font-size="8" dy="3">2</tspan></text>
<path d="M215.4 337.9 H243" stroke="#2a2cf5" stroke-width="1.5"/>
<text x="249" y="341.7" font-size="11.5" fill="#2a2cf5">C-Ir<tspan font-size="8" dy="3">1</tspan><tspan dy="-3">/Co(OH)</tspan><tspan font-size="8" dy="3">2</tspan></text>
<path d="M215.4 358.1 H243" stroke="#f5202a" stroke-width="1.5"/>
<text x="249" y="361.9" font-size="11.5" fill="#f5202a">A-Ir<tspan font-size="8" dy="3">1</tspan><tspan dy="-3">/Co(OH)</tspan><tspan font-size="8" dy="3">2</tspan></text>
<g fill="none" stroke="#464646" stroke-width="1.25">
<path d="M372.8 268.7 H681.2"/>
<path d="M372.8 496.1 H681.2"/>
<path d="M681.2 268.7 V496.1"/>
<path d="M373.3 496.1 V497.9"/>
<path d="M393.8 496.1 V500.3"/>
<path d="M414.3 496.1 V497.9"/>
<path d="M434.8 496.1 V500.3"/>
<path d="M455.4 496.1 V497.9"/>
<path d="M475.9 496.1 V500.3"/>
<path d="M496.4 496.1 V497.9"/>
<path d="M516.9 496.1 V500.3"/>
<path d="M537.4 496.1 V497.9"/>
<path d="M558.0 496.1 V500.3"/>
<path d="M578.5 496.1 V497.9"/>
<path d="M599.0 496.1 V500.3"/>
<path d="M619.5 496.1 V497.9"/>
<path d="M640.0 496.1 V500.3"/>
<path d="M660.6 496.1 V497.9"/>
<path d="M681.1 496.1 V500.3"/>
</g>
<path d="M372.8 268.7 V421.1" stroke="#2f6f73" stroke-width="1.1"/>
<path d="M372.8 421.1 V496.1" stroke="#66652a" stroke-width="1.15"/>
<path d="M372.80 362.60 C374.17 362.55 377.97 362.42 381.00 362.30 C384.03 362.18 387.77 362.63 391.00 361.90 C394.23 361.17 397.47 358.48 400.40 357.90 C403.33 357.32 406.27 358.43 408.60 358.40 C410.93 358.37 412.67 357.58 414.40 357.70 C416.13 357.82 416.92 359.63 419.00 359.10 C421.08 358.57 424.60 354.72 426.90 354.50 C429.20 354.28 430.95 359.30 432.80 357.80 C434.65 356.30 436.42 348.25 438.00 345.50 C439.58 342.75 441.00 341.08 442.30 341.30 C443.60 341.52 444.62 344.60 445.80 346.80 C446.98 349.00 448.32 354.93 449.40 354.50 C450.48 354.07 451.28 348.52 452.30 344.20 C453.32 339.88 454.42 333.15 455.50 328.60 C456.58 324.05 457.43 319.90 458.80 316.90 C460.17 313.90 461.97 310.72 463.70 310.60 C465.43 310.48 467.53 313.42 469.20 316.20 C470.87 318.98 472.20 322.85 473.70 327.30 C475.20 331.75 476.80 338.15 478.20 342.90 C479.60 347.65 480.80 353.17 482.10 355.80 C483.40 358.43 484.22 358.12 486.00 358.70 C487.78 359.28 490.25 358.88 492.80 359.30 C495.35 359.72 497.67 361.83 501.30 361.20 C504.93 360.57 510.27 355.18 514.60 355.50 C518.93 355.82 522.55 363.98 527.30 363.10 C532.05 362.22 538.73 351.78 543.10 350.20 C547.47 348.62 550.82 352.97 553.50 353.60 C556.18 354.23 556.98 353.55 559.20 354.00 C561.42 354.45 563.48 356.93 566.80 356.30 C570.12 355.67 574.68 349.23 579.10 350.20 C583.52 351.17 588.90 360.83 593.30 362.10 C597.70 363.37 601.65 357.92 605.50 357.80 C609.35 357.68 612.78 360.47 616.40 361.40 C620.02 362.33 622.78 364.00 627.20 363.40 C631.62 362.80 638.27 358.40 642.90 357.80 C647.53 357.20 652.18 359.55 655.00 359.80 C657.82 360.05 656.60 358.70 659.80 359.30 C663.00 359.90 670.67 363.05 674.20 363.40 C677.73 363.75 679.87 361.73 681.00 361.40" fill="none" stroke="#2b8c8c" stroke-width="1.45" stroke-linejoin="round" stroke-linecap="round"/>
<path d="M372.80 393.00 C375.83 392.88 386.40 392.77 391.00 392.30 C395.60 391.83 397.67 390.32 400.40 390.20 C403.13 390.08 405.27 391.63 407.40 391.60 C409.53 391.57 411.45 389.88 413.20 390.00 C414.95 390.12 415.57 392.62 417.90 392.30 C420.23 391.98 424.87 388.68 427.20 388.10 C429.53 387.52 430.43 389.65 431.90 388.80 C433.37 387.95 434.65 385.72 436.00 383.00 C437.35 380.28 438.67 375.42 440.00 372.50 C441.33 369.58 442.72 366.93 444.00 365.50 C445.28 364.07 446.45 363.82 447.70 363.90 C448.95 363.98 450.12 364.15 451.50 366.00 C452.88 367.85 454.58 371.83 456.00 375.00 C457.42 378.17 458.57 382.38 460.00 385.00 C461.43 387.62 462.47 389.60 464.60 390.70 C466.73 391.80 470.00 391.40 472.80 391.60 C475.60 391.80 477.12 392.00 481.40 391.90 C485.68 391.80 494.40 391.38 498.50 391.00 C502.60 390.62 503.17 389.28 506.00 389.60 C508.83 389.92 512.17 392.90 515.50 392.90 C518.83 392.90 522.20 389.98 526.00 389.60 C529.80 389.22 534.98 390.37 538.30 390.60 C541.62 390.83 542.42 390.55 545.90 391.00 C549.38 391.45 555.40 393.05 559.20 393.30 C563.00 393.55 564.58 392.63 568.70 392.50 C572.82 392.37 578.68 392.43 583.90 392.50 C589.12 392.57 590.65 392.82 600.00 392.90 C609.35 392.98 626.50 393.02 640.00 393.00 C653.50 392.98 674.17 392.83 681.00 392.80" fill="none" stroke="#9b30f5" stroke-width="1.45" stroke-linejoin="round" stroke-linecap="round"/>
<path d="M372.80 421.10 C374.67 421.17 380.57 421.62 384.00 421.50 C387.43 421.38 390.73 421.07 393.40 420.40 C396.07 419.73 397.47 418.55 400.00 417.50 C402.53 416.45 406.43 414.43 408.60 414.10 C410.77 413.77 411.45 414.65 413.00 415.50 C414.55 416.35 416.23 419.45 417.90 419.20 C419.57 418.95 421.32 416.53 423.00 414.00 C424.68 411.47 426.00 406.75 428.00 404.00 C430.00 401.25 432.67 397.67 435.00 397.50 C437.33 397.33 440.00 400.42 442.00 403.00 C444.00 405.58 445.37 410.18 447.00 413.00 C448.63 415.82 449.63 418.95 451.80 419.90 C453.97 420.85 457.30 418.43 460.00 418.70 C462.70 418.97 465.08 421.68 468.00 421.50 C470.92 421.32 473.58 418.68 477.50 417.60 C481.42 416.52 487.42 415.05 491.50 415.00 C495.58 414.95 498.30 417.18 502.00 417.30 C505.70 417.42 510.70 415.83 513.70 415.70 C516.70 415.57 516.53 415.88 520.00 416.50 C523.47 417.12 530.50 418.48 534.50 419.40 C538.50 420.32 540.42 421.88 544.00 422.00 C547.58 422.12 552.00 420.13 556.00 420.10 C560.00 420.07 562.00 421.92 568.00 421.80 C574.00 421.68 581.17 419.37 592.00 419.40 C602.83 419.43 618.17 421.68 633.00 422.00 C647.83 422.32 673.00 421.42 681.00 421.30" fill="none" stroke="#8c8a23" stroke-width="1.45" stroke-linejoin="round" stroke-linecap="round"/>
<path d="M372.80 450.70 C374.28 450.63 379.05 450.18 381.70 450.30 C384.35 450.42 386.15 451.78 388.70 451.40 C391.25 451.02 394.28 448.97 397.00 448.00 C399.72 447.03 402.83 445.77 405.00 445.60 C407.17 445.43 408.23 446.33 410.00 447.00 C411.77 447.67 413.60 449.93 415.60 449.60 C417.60 449.27 419.48 446.63 422.00 445.00 C424.52 443.37 427.70 440.87 430.70 439.80 C433.70 438.73 437.07 438.80 440.00 438.60 C442.93 438.40 445.95 438.13 448.30 438.60 C450.65 439.07 452.15 440.17 454.10 441.40 C456.05 442.63 458.05 444.72 460.00 446.00 C461.95 447.28 463.67 448.77 465.80 449.10 C467.93 449.43 469.68 447.73 472.80 448.00 C475.92 448.27 480.80 450.83 484.50 450.70 C488.20 450.57 491.50 447.27 495.00 447.20 C498.50 447.13 501.80 450.17 505.50 450.30 C509.20 450.43 513.12 447.82 517.20 448.00 C521.28 448.18 525.92 451.30 530.00 451.40 C534.08 451.50 536.70 448.83 541.70 448.60 C546.70 448.37 550.28 449.68 560.00 450.00 C569.72 450.32 586.67 450.47 600.00 450.50 C613.33 450.53 626.50 450.12 640.00 450.20 C653.50 450.28 674.17 450.87 681.00 451.00" fill="none" stroke="#2a2cf5" stroke-width="1.45" stroke-linejoin="round" stroke-linecap="round"/>
<path d="M372.80 480.70 C374.28 480.58 378.27 479.93 381.70 480.00 C385.13 480.07 390.35 481.35 393.40 481.10 C396.45 480.85 397.87 479.28 400.00 478.50 C402.13 477.72 404.37 476.57 406.20 476.40 C408.03 476.23 409.25 477.02 411.00 477.50 C412.75 477.98 414.87 479.88 416.70 479.30 C418.53 478.72 420.12 476.22 422.00 474.00 C423.88 471.78 425.88 467.85 428.00 466.00 C430.12 464.15 432.53 462.90 434.70 462.90 C436.87 462.90 438.78 464.15 441.00 466.00 C443.22 467.85 445.82 471.67 448.00 474.00 C450.18 476.33 452.30 478.82 454.10 480.00 C455.90 481.18 456.85 480.80 458.80 481.10 C460.75 481.40 463.60 482.07 465.80 481.80 C468.00 481.53 469.67 480.20 472.00 479.50 C474.33 478.80 477.63 477.60 479.80 477.60 C481.97 477.60 483.05 478.92 485.00 479.50 C486.95 480.08 489.50 481.10 491.50 481.10 C493.50 481.10 494.87 480.00 497.00 479.50 C499.13 479.00 501.80 478.02 504.30 478.10 C506.80 478.18 509.47 479.38 512.00 480.00 C514.53 480.62 516.50 481.80 519.50 481.80 C522.50 481.80 524.92 480.13 530.00 480.00 C535.08 479.87 538.33 480.83 550.00 481.00 C561.67 481.17 585.00 481.08 600.00 481.00 C615.00 480.92 626.50 480.50 640.00 480.50 C653.50 480.50 674.17 480.92 681.00 481.00" fill="none" stroke="#f5202a" stroke-width="1.45" stroke-linejoin="round" stroke-linecap="round"/>
<g font-size="13.4" fill="#111" text-anchor="middle">
<text x="393.8" y="516">1</text>
<text x="434.8" y="516">2</text>
<text x="475.9" y="516">3</text>
<text x="516.9" y="516">4</text>
<text x="558.0" y="516">5</text>
<text x="599.0" y="516">6</text>
<text x="640.0" y="516">7</text>
<text x="681.1" y="516">8</text>
</g>
<text x="527" y="535.8" font-size="13.4" fill="#111" text-anchor="middle"><tspan font-style="italic">R</tspan> (Å)</text>
<text transform="translate(363.6 381.3) rotate(-90)" font-size="13.4" fill="#111" text-anchor="middle">FT <tspan font-style="italic">k</tspan><tspan font-size="9" dy="-5.5">3</tspan><tspan dy="5.5" xml:space="preserve"> <tspan font-size="14.5">χ</tspan>(k)</tspan></text>
<text x="490.2" y="347.3" font-size="11.5" fill="#2b8c8c">× 1/2</text>
<text x="598.2" y="347.3" font-size="11.5" fill="#2b8c8c">Ir powder</text>
<text x="611.2" y="383.3" font-size="11.5" fill="#9b30f5">IrCl<tspan font-size="8" dy="3">3</tspan></text>
<text x="611.7" y="413.4" font-size="11.5" fill="#8c8a23">IrO<tspan font-size="8" dy="3">2</tspan></text>
<text x="587.3" y="440.4" font-size="11.5" fill="#2a2cf5">C-Ir<tspan font-size="8" dy="3">1</tspan><tspan dy="-3">/Co(OH)</tspan><tspan font-size="8" dy="3">2</tspan></text>
<text x="587.3" y="471.2" font-size="11.5" fill="#f5202a">A-Ir<tspan font-size="8" dy="3">1</tspan><tspan dy="-3">/Co(OH)</tspan><tspan font-size="8" dy="3">2</tspan></text>
</svg></body></html>
